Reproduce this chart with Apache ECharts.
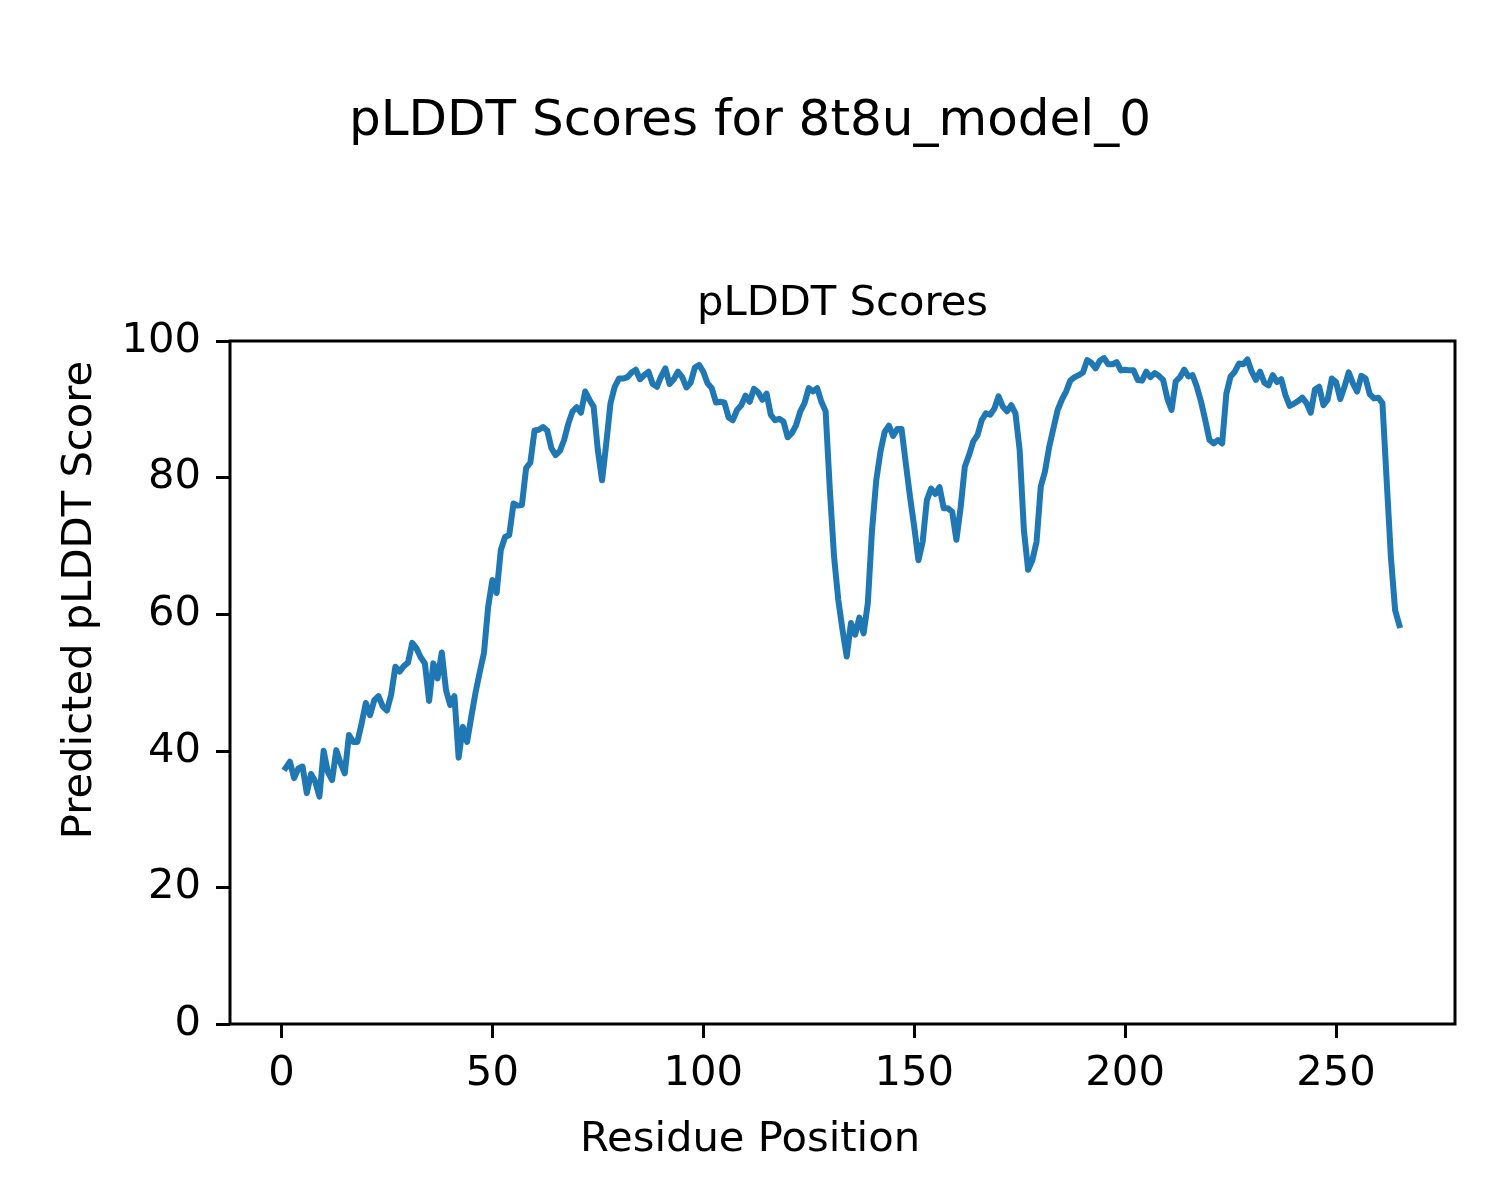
<!DOCTYPE html>
<html>
<head>
<meta charset="utf-8">
<script src="https://cdn.jsdelivr.net/npm/echarts@6/dist/echarts.min.js"></script>
<style>
html,body{margin:0;padding:0;background:#fff;}
#chart{width:1500px;height:1200px;}
</style>
</head>
<body>
<div id="chart"></div>
<script>
// pLDDT score per residue (residues 1..265)
var plddt = [
37.5,38.4,36.0,37.4,37.7,33.8,36.6,35.5,33.3,40.0,
36.9,35.7,40.1,38.2,36.7,42.3,41.3,41.3,44.0,47.0,
45.2,47.4,48.0,46.5,45.9,48.2,52.3,51.6,52.4,52.9,
55.8,55.0,53.7,52.8,47.3,52.8,50.6,54.4,48.9,46.7,
48.0,39.0,43.5,41.3,45.0,48.5,51.5,54.3,61.1,65.0,
63.1,69.4,71.3,71.6,76.2,75.9,76.0,81.4,82.2,86.9,
87.0,87.4,86.9,84.3,83.3,83.9,85.5,87.9,89.7,90.3,
89.5,92.6,91.4,90.4,84.0,79.6,85.0,90.9,93.3,94.5,
94.5,94.7,95.4,95.8,94.4,95.0,95.5,93.7,93.3,94.8,
96.0,93.7,94.4,95.5,94.7,93.2,93.9,96.1,96.5,95.5,
93.8,93.1,91.0,91.1,91.0,88.8,88.4,89.9,90.6,92.0,
91.1,93.0,92.5,91.4,92.3,89.2,88.4,88.6,88.2,85.9,
86.5,87.7,89.7,90.9,93.1,92.6,93.1,91.1,89.7,78.2,
68.4,62.1,57.7,53.8,58.7,57.0,59.5,57.2,61.6,72.3,
79.6,83.8,86.7,87.6,86.1,87.1,87.1,82.1,77.2,72.8,
67.9,70.6,76.7,78.4,77.6,78.6,75.5,75.5,75.0,70.9,
75.6,81.6,83.3,85.3,86.2,88.4,89.4,89.2,90.1,91.9,
90.4,89.7,90.6,89.4,84.0,72.3,66.5,67.9,70.6,78.7,
80.9,84.5,87.2,89.9,91.4,92.6,94.2,94.7,95.0,95.4,
97.2,96.8,96.0,97.1,97.5,96.6,96.6,96.9,95.7,95.8,
95.7,95.7,94.3,94.2,95.5,94.7,95.3,94.9,94.3,91.6,
89.9,94.1,94.7,95.8,94.8,95.0,93.3,91.1,88.4,85.5,
85.0,85.5,85.0,92.3,94.8,95.5,96.7,96.6,97.3,95.5,
94.3,95.5,93.9,93.5,95.0,94.0,94.4,92.1,90.5,90.8,
91.2,91.7,90.9,89.5,92.9,93.3,90.6,91.4,94.5,94.0,
91.5,93.3,95.4,93.8,92.6,94.9,94.5,92.2,91.6,91.7,
90.9,79.6,68.4,60.6,58.4
];
var firstResidue = 1;
var xTicks = [0, 50, 100, 150, 200, 250];
var yTicks = [0, 20, 40, 60, 80, 100];

var suptitleText = 'pLDDT Scores for 8t8u_model_0';
var axesTitleText = 'pLDDT Scores';
var xLabelText = 'Residue Position';
var yLabelText = 'Predicted pLDDT Score';

var seriesData = plddt.map(function (v, i) { return [firstResidue + i, v]; });

var FONT = 'DejaVu Sans';
var chart = echarts.init(document.getElementById('chart'), null, {renderer: 'canvas'});
chart.setOption({
  animation: false,
  backgroundColor: '#ffffff',
  textStyle: {fontFamily: FONT},
  title: [
    {text: suptitleText, left: 'center', top: 97, padding: 0,
     textStyle: {fontFamily: FONT, fontSize: 50, fontWeight: 'normal', color: '#000'}},
    {text: axesTitleText, left: 842.5, textAlign: 'center', top: 283, padding: 0,
     textStyle: {fontFamily: FONT, fontSize: 41.7, fontWeight: 'normal', color: '#000'}}
  ],
  graphic: [
    {type: 'text', x: 750, y: 1140, style: {text: xLabelText, font: '41.7px "DejaVu Sans"', fill: '#000', textAlign: 'center', textVerticalAlign: 'middle'}},
    {type: 'text', x: 80, y: 600, rotation: Math.PI / 2, style: {text: yLabelText, font: '41.7px "DejaVu Sans"', fill: '#000', textAlign: 'center', textVerticalAlign: 'middle'}}
  ],
  grid: {left: 230, top: 341, width: 1225, height: 683, show: true, borderColor: '#000', borderWidth: 3, backgroundColor: '#fff', containLabel: false},
  xAxis: {
    type: 'value', min: -12.2, max: 278.2,
    axisLine: {show: false, onZero: false},
    splitLine: {show: false},
    axisTick: {show: true, inside: false, length: 14, lineStyle: {color: '#000', width: 3}, customValues: xTicks},
    axisLabel: {show: true, margin: 29, fontSize: 41.7, fontFamily: FONT, color: '#000', customValues: xTicks}
  },
  yAxis: {
    type: 'value', min: 0, max: 100, interval: 20,
    axisLine: {show: false, onZero: false},
    splitLine: {show: false},
    axisTick: {show: true, inside: false, length: 14, lineStyle: {color: '#000', width: 3}},
    axisLabel: {show: true, margin: 29, fontSize: 41.7, fontFamily: FONT, color: '#000', padding: [6, 0, 0, 0]}
  },
  series: [{
    type: 'line', data: seriesData, showSymbol: false, symbol: 'none',
    lineStyle: {color: '#1f77b4', width: 6, join: 'round', cap: 'square'},
    clip: true
  }]
});
</script>
</body>
</html>
